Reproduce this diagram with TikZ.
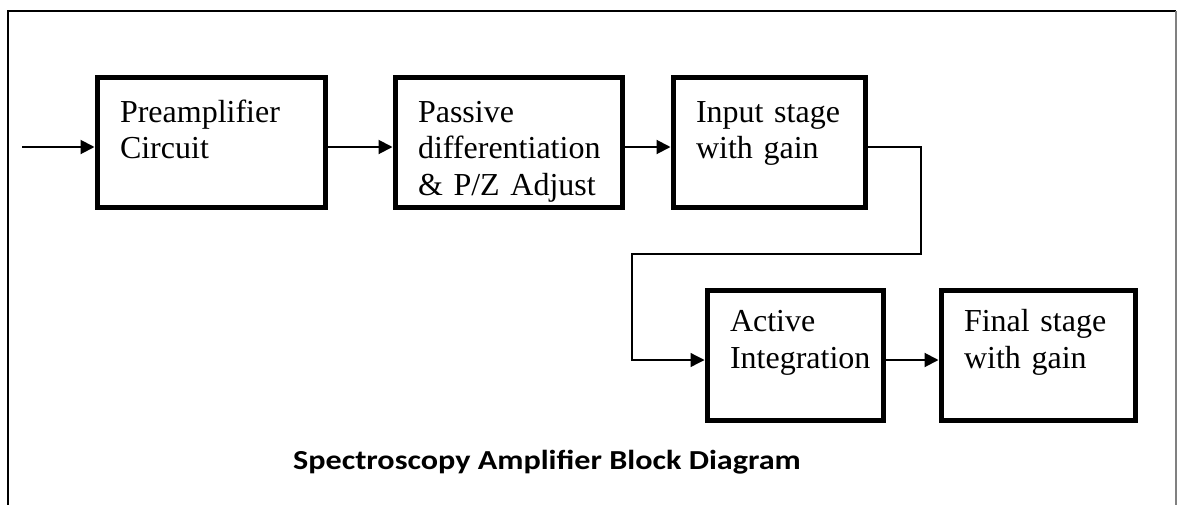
\documentclass[tikz,border=0pt]{standalone}
\usepackage{fontspec}
\newfontfamily\boxfont{Liberation Serif}
\newfontfamily\capfont[FakeStretch=1.17]{Carlito}
\usetikzlibrary{arrows.meta}
\begin{document}
\begin{tikzpicture}[x=1pt,y=-1pt,
  blk/.style={draw, line width=5pt, inner xsep=23pt, inner ysep=0pt, align=left,
    anchor=north west, font=\boxfont\fontsize{32}{36.5}\selectfont},
  toprow/.style={text height=45pt, text depth=85pt},
  botrow/.style={text height=41.5pt, text depth=88.5pt},
  conn/.style={line width=2pt, -{Triangle[length=14pt,width=14pt]}},
  loopconn/.style={line width=1.3pt, -{Triangle[length=14pt,width=14pt]}},
  frameline/.style={line width=2pt},
  capstyle/.style={font=\capfont\bfseries\fontsize{27.5}{32}\selectfont, anchor=base, inner sep=0pt}]
\useasboundingbox (0,0) rectangle (1178,504);
% frame
\draw[frameline] (8,510) -- (8,11) -- (1176,11);
\draw[gray, line width=1.2pt] (1176,11) -- (1176,510);
% blocks
\node[blk, toprow, text width=182pt] (b1) at (94.5,74.5) {Preamplifier\\Circuit};
\node[blk, toprow, text width=181pt] (b2) at (392.5,74.5) {Passive\\differentiation\\\&\ P/Z Adjust};
\node[blk, toprow, text width=146pt] (b3) at (670.5,74.5) {Input stage\\with gain};
\node[blk, botrow, text width=130pt] (b4) at (704.5,287.5) {Active\\Integration};
\node[blk, botrow, text width=148pt] (b5) at (938.5,287.5) {Final stage\\with gain};
% coordinates
\coordinate (in) at (22,147);
\coordinate (rowb) at (0,360);
\coordinate (c1) at (921,147);
\coordinate (c2) at (921,254);
\coordinate (c3) at (632,254);
\coordinate (c4) at (632,360);
% connectors
\draw[conn] (in) -- (b1.west |- in);
\draw[conn] (b1.east |- in) -- (b2.west |- in);
\draw[conn] (b2.east |- in) -- (b3.west |- in);
\draw[loopconn] (b3.east |- in) -- (c1) -- (c2) -- (c3) -- (c4) -- (b4.west |- rowb);
\draw[conn] (b4.east |- rowb) -- (b5.west |- rowb);
% caption
\node[capstyle] (cap) at (547,469.5) {Spectroscopy Amplifier Block Diagram};
\end{tikzpicture}
\end{document}
